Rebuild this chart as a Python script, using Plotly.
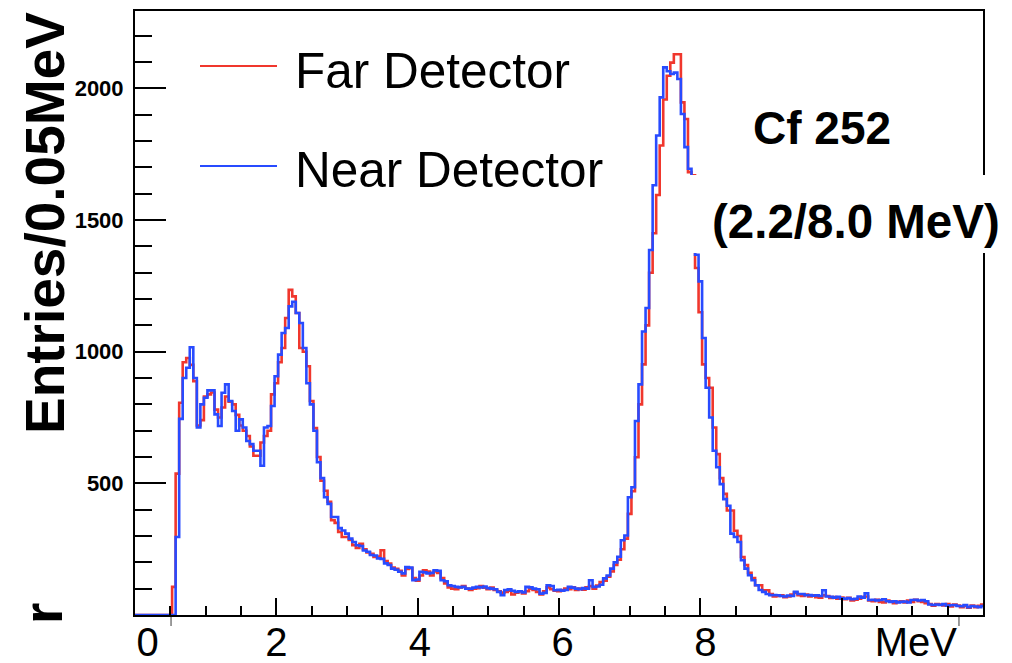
import plotly.graph_objects as go

# ---------------- data ----------------
bin_width = 0.05          # MeV per bin, bin centres start at 0.00 MeV
e_first = 0.0

near_counts = [
    0, 0, 0, 0, 0, 0, 0, 0, 0, 0, 0, 0, 296, 745, 900, 939, 1017, 900, 712, 800,
    825, 853, 853, 762, 718, 844, 876, 813, 775, 700, 743, 712, 661, 649, 624, 624, 567, 712, 718, 794,
    907, 989, 1071, 1090, 1172, 1190, 1147, 1109, 1014, 880, 800, 700, 580, 520, 447, 422, 372, 372, 330, 321,
    309, 290, 277, 265, 262, 245, 240, 228, 226, 215, 213, 196, 190, 176, 172, 164, 158, 182, 180, 132,
    135, 164, 162, 158, 160, 170, 168, 132, 128, 113, 110, 107, 105, 107, 100, 100, 104, 107, 105, 108,
    102, 100, 98, 88, 75, 95, 98, 92, 88, 90, 86, 107, 105, 100, 98, 81, 84, 113, 110, 94,
    96, 92, 95, 107, 104, 100, 98, 102, 100, 132, 107, 108, 115, 139, 150, 176, 200, 221, 284, 302,
    447, 485, 737, 876, 1077, 1166, 1386, 1632, 1821, 1966, 2080, 2065, 2055, 2060, 2036, 1903, 1777, 1695, 1450, 1368,
    1267, 1052, 863, 750, 624, 561, 497, 440, 415, 309, 296, 277, 208, 176, 151, 132, 113, 95, 88, 80,
    75, 76, 75, 72, 70, 74, 72, 88, 80, 80, 75, 76, 73, 75, 72, 94, 70, 69, 66, 69,
    63, 62, 64, 60, 62, 70, 66, 82, 57, 58, 55, 57, 60, 52, 50, 52, 48, 50, 51, 48,
    57, 58, 55, 57, 52, 40, 38, 40, 38, 42, 35, 37, 38, 34, 33, 38, 30, 34, 32, 30,
    34,
]

far_counts = [
    0, 0, 0, 0, 0, 0, 0, 0, 0, 0, 0, 107, 537, 806, 960, 976, 950, 888, 720, 740,
    830, 838, 845, 780, 750, 788, 830, 810, 800, 760, 720, 700, 680, 640, 605, 605, 655, 680, 700, 838,
    880, 960, 1014, 1128, 1235, 1210, 1147, 1014, 1000, 945, 813, 710, 600, 510, 472, 430, 360, 350, 315, 296,
    296, 285, 265, 255, 270, 250, 238, 232, 220, 222, 246, 205, 195, 180, 175, 168, 150, 175, 178, 140,
    130, 150, 170, 165, 150, 165, 160, 140, 120, 105, 100, 98, 105, 110, 100, 95, 100, 102, 110, 104,
    98, 104, 95, 90, 85, 88, 92, 78, 85, 90, 82, 90, 100, 95, 88, 78, 90, 105, 98, 92,
    90, 95, 100, 98, 105, 95, 100, 96, 105, 110, 100, 112, 125, 130, 145, 165, 190, 210, 250, 290,
    384, 470, 599, 800, 952, 1100, 1300, 1450, 1595, 1783, 1958, 2048, 2098, 2130, 2130, 1947, 1884, 1682, 1670, 1318,
    1150, 952, 900, 863, 712, 611, 520, 460, 397, 397, 320, 300, 220, 190, 160, 140, 113, 113, 94, 94,
    80, 70, 72, 75, 68, 70, 78, 85, 75, 72, 78, 70, 75, 68, 66, 75, 72, 65, 68, 62,
    66, 60, 65, 55, 58, 62, 68, 70, 55, 52, 58, 50, 48, 55, 52, 45, 50, 52, 48, 55,
    50, 58, 52, 50, 45, 42, 35, 42, 40, 36, 42, 32, 40, 36, 30, 35, 28, 36, 30, 35,
    40,
]

series_names = ["Far Detector", "Near Detector"]
x_tick_labels = ["0", "2", "4", "6", "8", "MeV"]
x_tick_label_pos = [0.18, 2.0, 4.03, 6.05, 8.07, 11.05]
y_tick_vals = [500, 1000, 1500, 2000]
range_marks = [0.51, 11.66]   # small range markers under the energy axis
y_title = "Entries/0.05MeV"
source_label = "Cf 252"
energy_label = "(2.2/8.0 MeV)"

# ---------------- figure ----------------
RED = "rgb(240,55,45)"
BLUE = "rgb(40,75,255)"

def centres(counts):
    return [round(e_first + i * bin_width, 4) for i in range(len(counts))]

fig = go.Figure()
fig.add_trace(go.Scatter(x=centres(far_counts), y=far_counts, mode="lines",
                         line=dict(color=RED, width=2.6, shape="hvh"),
                         name=series_names[0], hoverinfo="skip"))
fig.add_trace(go.Scatter(x=centres(near_counts), y=near_counts, mode="lines",
                         line=dict(color=BLUE, width=2.6, shape="hvh"),
                         name=series_names[1], hoverinfo="skip"))
# carrier for the overlay label axis
fig.add_trace(go.Scatter(x=x_tick_label_pos, y=[None] * len(x_tick_label_pos),
                         xaxis="x2", mode="markers", showlegend=False, hoverinfo="skip"))

# page body has an 8 px margin: lay the figure out in window pixels minus 8
OFF = 8
W, H = 1012 - OFF, 663 - OFF
L, R, T, B = 135 - OFF, 983 - OFF, 11 - OFF, 615 - OFF
PW, PH = R - L, B - T

def px(x):
    return (x - OFF - L) / PW

def py(y):
    return (B - (y - OFF)) / PH

fig.update_layout(
    width=W, height=H, autosize=False,
    margin=dict(l=L, r=W - R, t=T, b=H - B, pad=0, autoexpand=False),
    paper_bgcolor="white", plot_bgcolor="white",
    showlegend=False,
    xaxis=dict(range=[0, 12], showgrid=False, zeroline=False, automargin=False,
               showline=True, linecolor="black", linewidth=2, mirror=True,
               ticks="inside", tickmode="array", tickvals=[0, 2, 4, 6, 8, 10, 12],
               ticklen=17, tickwidth=1.5, tickcolor="black", showticklabels=False,
               minor=dict(dtick=0.5, tick0=0, ticks="inside", ticklen=9,
                          tickwidth=1.5, tickcolor="black")),
    xaxis2=dict(overlaying="x", anchor="y", side="bottom", range=[0, 12],
                showgrid=False, zeroline=False, showline=False, ticks="", automargin=False,
                tickmode="array", tickvals=x_tick_label_pos, ticktext=x_tick_labels,
                tickfont=dict(family="Liberation Sans", size=40, color="black"),
                ticklabelstandoff=0),
    yaxis=dict(range=[0, 2294], showgrid=False, zeroline=False, automargin=False,
               showline=True, linecolor="black", linewidth=2, mirror=True,
               ticks="inside", tickmode="array", tickvals=y_tick_vals,
               ticklen=31, tickwidth=1.5, tickcolor="black",
               tickfont=dict(family="Liberation Sans", size=22, color="black", weight="bold"),
               ticklabelstandoff=5,
               minor=dict(dtick=100, tick0=0, ticks="inside", ticklen=17,
                          tickwidth=1.5, tickcolor="black")),
)

# small range markers just below the axis line
for xm in range_marks:
    fig.add_shape(type="line", xref="x", yref="paper", x0=xm, x1=xm,
                  y0=-2 / PH, y1=-11 / PH, line=dict(color="rgb(90,90,90)", width=1.2))

# legend (drawn by hand to match the long ROOT legend samples)
leg_rows = [(66, RED, series_names[0]), (166, BLUE, series_names[1])]
for yy, col, name in leg_rows:
    fig.add_shape(type="line", xref="paper", yref="paper",
                  x0=px(200), x1=px(277), y0=py(yy), y1=py(yy),
                  line=dict(color=col, width=2))
    fig.add_annotation(xref="paper", yref="paper", x=px(293), y=py(yy + 4),
                       xanchor="left", yanchor="middle", showarrow=False,
                       text=name, font=dict(family="Liberation Sans", size=49.5, color="black"))

# y-axis title (rotated) and the stray cut-off letter below it
fig.add_annotation(xref="paper", yref="paper", x=px(45), y=py(223),
                   xanchor="center", yanchor="middle", showarrow=False, textangle=-90,
                   text=y_title,
                   font=dict(family="Liberation Sans", size=55, color="black", weight="bold"))
fig.add_annotation(xref="paper", yref="paper", x=px(43), y=py(614),
                   xanchor="center", yanchor="middle", showarrow=False, textangle=-90,
                   text="r",
                   font=dict(family="Liberation Sans", size=55, color="black", weight="bold"))

# source labels; white box behind the energy label hides curve and frame
fig.add_shape(type="rect", xref="paper", yref="paper", layer="above",
              x0=px(688), x1=px(1012), y0=py(253), y1=py(175),
              fillcolor="white", line=dict(width=0))
fig.add_annotation(xref="paper", yref="paper", x=px(822), y=py(128),
                   xanchor="center", yanchor="middle", showarrow=False,
                   text=source_label,
                   font=dict(family="Liberation Sans", size=46, color="black", weight="bold"))
fig.add_annotation(xref="paper", yref="paper", x=px(856), y=py(221),
                   xanchor="center", yanchor="middle", showarrow=False,
                   text=energy_label,
                   font=dict(family="Liberation Sans", size=47.5, color="black", weight="bold"))

fig.write_html("out.html")
